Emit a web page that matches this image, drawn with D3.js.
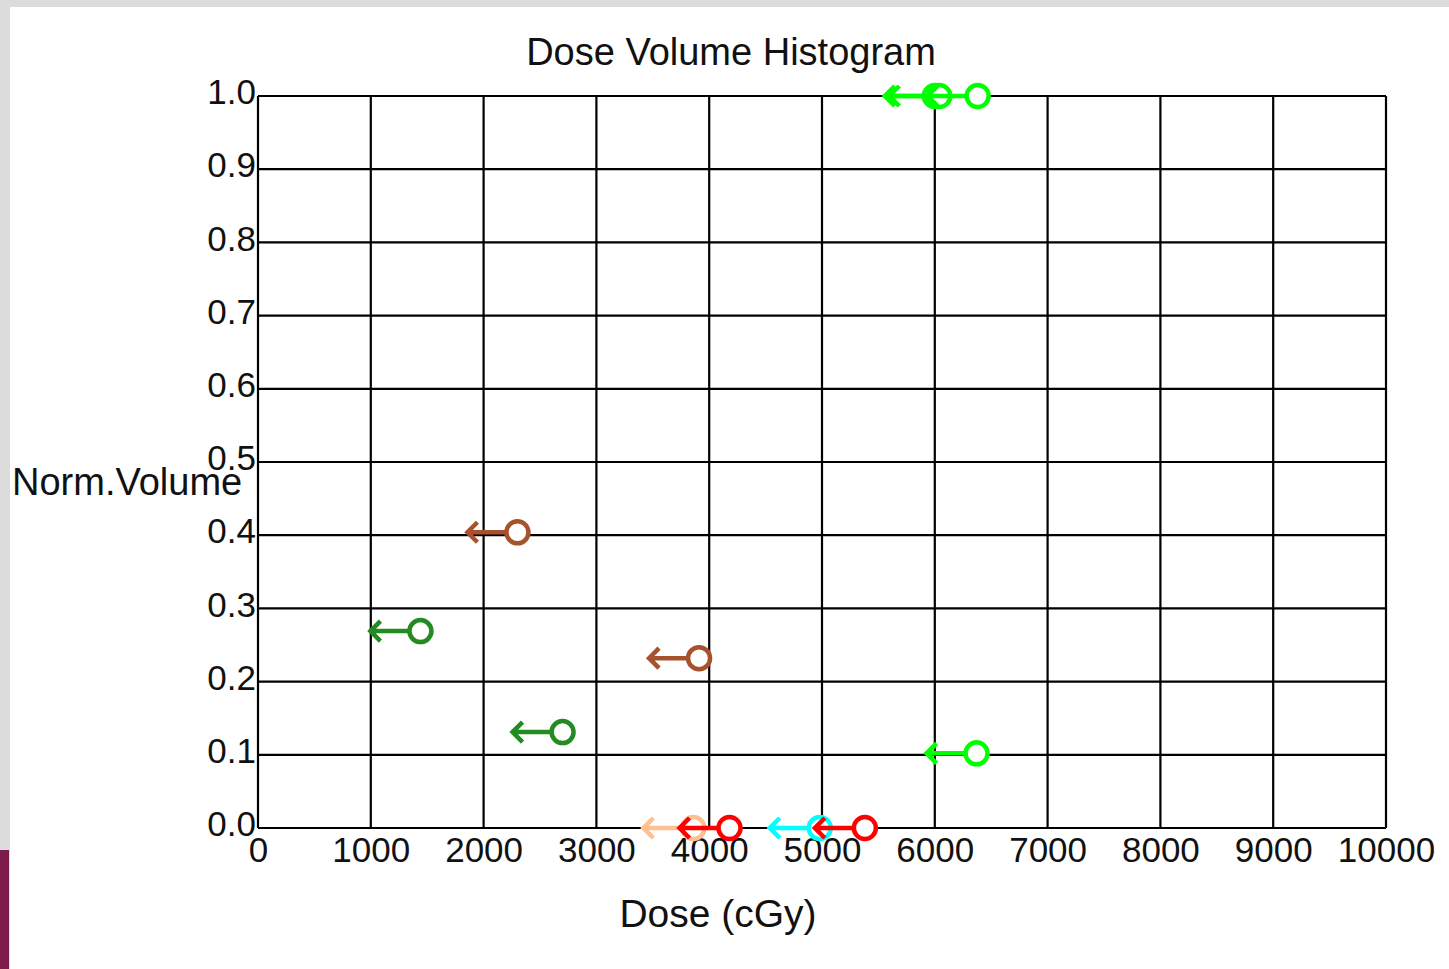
<!DOCTYPE html>
<html lang="en">
<head>
    <meta charset="utf-8">
    <title>Dose Volume Histogram</title>
    <script type="text/javascript" src="https://cdn.jsdelivr.net/npm/d3@7"></script>
    <style>
        body { margin: 0; background: #fff; }
        text { font-family: "Liberation Sans", Arial, sans-serif; fill: #111; }
    </style>
</head>
<body>
<div id="graph"></div>
<script type="text/javascript">
    // objective markers: dose (cGy) and normalised volume
    var doses   = [6000, 6040, 6380, 2300, 3910, 1440, 2700, 6370, 3860, 4980, 4180, 5380];
    var volumes = [1.0, 1.0, 1.0, 0.404, 0.232, 0.269, 0.131, 0.102, 0.0, 0.0, 0.0, 0.0];
    var groups  = ["lime", "lime", "lime", "brown", "brown", "green", "green", "lime", "peach", "cyan", "red", "red"];

    var groupNames  = ["lime", "brown", "green", "peach", "cyan", "red"];
    var groupColors = ["#00ff00", "#a5522d", "#228b22", "#ffbf90", "#00ffff", "#ff0000"];

    var xTicks = [0, 1000, 2000, 3000, 4000, 5000, 6000, 7000, 8000, 9000, 10000];
    var yTicks = [0, 0.1, 0.2, 0.3, 0.4, 0.5, 0.6, 0.7, 0.8, 0.9, 1.0];

    var w = 1449;
    var h = 969;
    var plotLeft = 258, plotRight = 1386, plotTop = 96, plotBottom = 828;

    var xScale = d3.scaleLinear().domain([0, 10000]).range([plotLeft, plotRight]);
    var yScale = d3.scaleLinear().domain([0, 1]).range([plotBottom, plotTop]);
    var color = d3.scaleOrdinal().domain(groupNames).range(groupColors);

    var svg = d3.select("#graph")
        .append("svg")
        .attr("width", w)
        .attr("height", h);

    // window frame bits
    svg.append("rect").attr("x", 0).attr("y", 0).attr("width", w).attr("height", 7).attr("fill", "#dcdcdc");
    svg.append("rect").attr("x", 0).attr("y", 0).attr("width", 10).attr("height", h).attr("fill", "#dcdcdc");
    svg.append("rect").attr("x", 0).attr("y", 850).attr("width", 9).attr("height", h - 850).attr("fill", "#7d1c4a");

    // grid
    svg.append("g").selectAll("line")
        .data(xTicks)
        .enter()
        .append("line")
        .attr("x1", function (d) { return xScale(d); })
        .attr("x2", function (d) { return xScale(d); })
        .attr("y1", plotTop)
        .attr("y2", plotBottom)
        .attr("stroke", "#000")
        .attr("stroke-width", 2.2);

    svg.append("g").selectAll("line")
        .data(yTicks)
        .enter()
        .append("line")
        .attr("x1", plotLeft)
        .attr("x2", plotRight)
        .attr("y1", function (d) { return yScale(d); })
        .attr("y2", function (d) { return yScale(d); })
        .attr("stroke", "#000")
        .attr("stroke-width", 2.2);

    var xAxis = d3.axisBottom(xScale)
        .tickValues(xTicks)
        .tickSize(0)
        .tickPadding(9)
        .tickFormat(d3.format("d"));

    var yAxis = d3.axisLeft(yScale)
        .tickValues(yTicks)
        .tickSize(0)
        .tickPadding(2)
        .tickFormat(d3.format(".1f"));

    var gx = svg.append("g")
        .attr("transform", "translate(0," + plotBottom + ")")
        .call(xAxis);
    var gy = svg.append("g")
        .attr("transform", "translate(" + plotLeft + ",0)")
        .call(yAxis);

    [gx, gy].forEach(function (g) {
        g.select(".domain").remove();
        g.selectAll("text")
            .style("font-size", "35px")
            .attr("font-family", null)
            .attr("fill", "#111");
    });
    gy.selectAll("text").attr("dy", "0.22em");

    // markers: circle at the objective, arrow pointing to lower dose
    var r = 11, arrowLen = 50, head = 10;
    var markers = svg.append("g").selectAll("g")
        .data(doses)
        .enter()
        .append("g")
        .attr("transform", function (d, i) {
            return "translate(" + xScale(d) + "," + yScale(volumes[i]) + ")";
        })
        .attr("stroke", function (d, i) { return color(groups[i]); })
        .attr("stroke-width", 4.5)
        .attr("fill", "none");

    markers.append("path")
        .attr("d", "M" + (-r) + ",0H" + (-arrowLen) +
            "M" + (-arrowLen + head) + "," + (-head) + "L" + (-arrowLen) + ",0L" + (-arrowLen + head) + "," + head);

    markers.append("circle")
        .attr("r", r)
        .attr("fill", "#fff");

    // titles
    svg.append("text")
        .attr("x", 731)
        .attr("y", 65)
        .attr("text-anchor", "middle")
        .style("font-size", "38px")
        .text("Dose Volume Histogram");

    svg.append("text")
        .attr("x", 718)
        .attr("y", 927)
        .attr("text-anchor", "middle")
        .style("font-size", "39px")
        .text("Dose (cGy)");

    svg.append("text")
        .attr("x", 12)
        .attr("y", 495)
        .style("font-size", "38px")
        .text("Norm.Volume");
</script>
</body>
</html>
